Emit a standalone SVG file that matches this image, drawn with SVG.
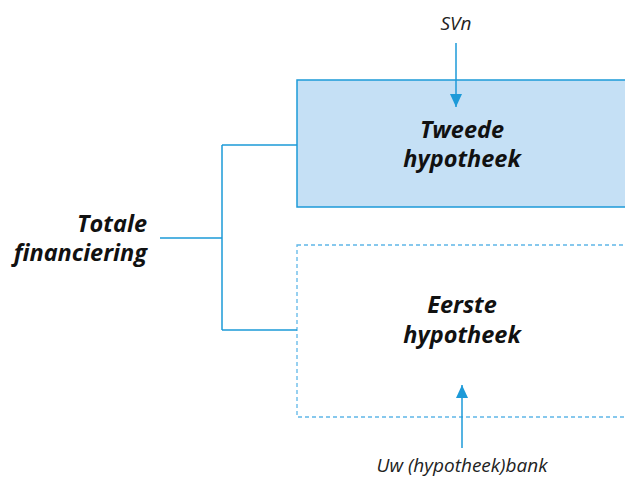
<svg xmlns="http://www.w3.org/2000/svg" width="625" height="477" viewBox="0 0 625 477">
<defs>
<style>
.conn{fill:none;stroke:#1d9ad8;stroke-width:1.5}
.lbl{font-family:"Open Sans","Noto Sans",sans-serif;font-style:italic;font-weight:bold;font-size:23.5px;fill:#111;text-anchor:middle}
.src{font-family:"Open Sans","Noto Sans",sans-serif;font-style:italic;font-size:19px;fill:#222;text-anchor:middle}
</style>
<marker id="ah" viewBox="0 0 13 12" refX="13" refY="6" markerWidth="13" markerHeight="12" markerUnits="userSpaceOnUse" orient="auto">
<path d="M0,0 L13,6 L0,12 z" fill="#1d9ad8"/>
</marker>
</defs>
<rect width="625" height="477" fill="#fff"/>
<g id="tweede">
<rect x="297" y="80" width="340" height="127" fill="#c5e0f5" stroke="#1d9ad8" stroke-width="1.5"/>
<text class="lbl" x="462" y="138">Tweede</text>
<text class="lbl" x="462" y="167">hypotheek</text>
</g>
<g id="eerste">
<rect x="297" y="245" width="340" height="172" fill="none" stroke="#5fb7e8" stroke-width="1.3" stroke-dasharray="4 3"/>
<text class="lbl" x="462" y="313">Eerste</text>
<text class="lbl" x="462" y="343">hypotheek</text>
</g>
<g id="totale">
<text class="lbl" style="text-anchor:end" x="147" y="232">Totale</text>
<text class="lbl" style="text-anchor:end" x="147" y="261">financiering</text>
</g>
<g id="svn">
<text class="src" x="456" y="30">SVn</text>
</g>
<g id="bank">
<text class="src" x="462" y="472">Uw (hypotheek)bank</text>
</g>
<g id="connectors">
<path class="conn" d="M160,238 H222 M222,145 V330 M222,145 H297 M222,330 H297"/>
<path class="conn" d="M456,43 V107" marker-end="url(#ah)"/>
<path class="conn" d="M462,448 V385" marker-end="url(#ah)"/>
</g>
</svg>
